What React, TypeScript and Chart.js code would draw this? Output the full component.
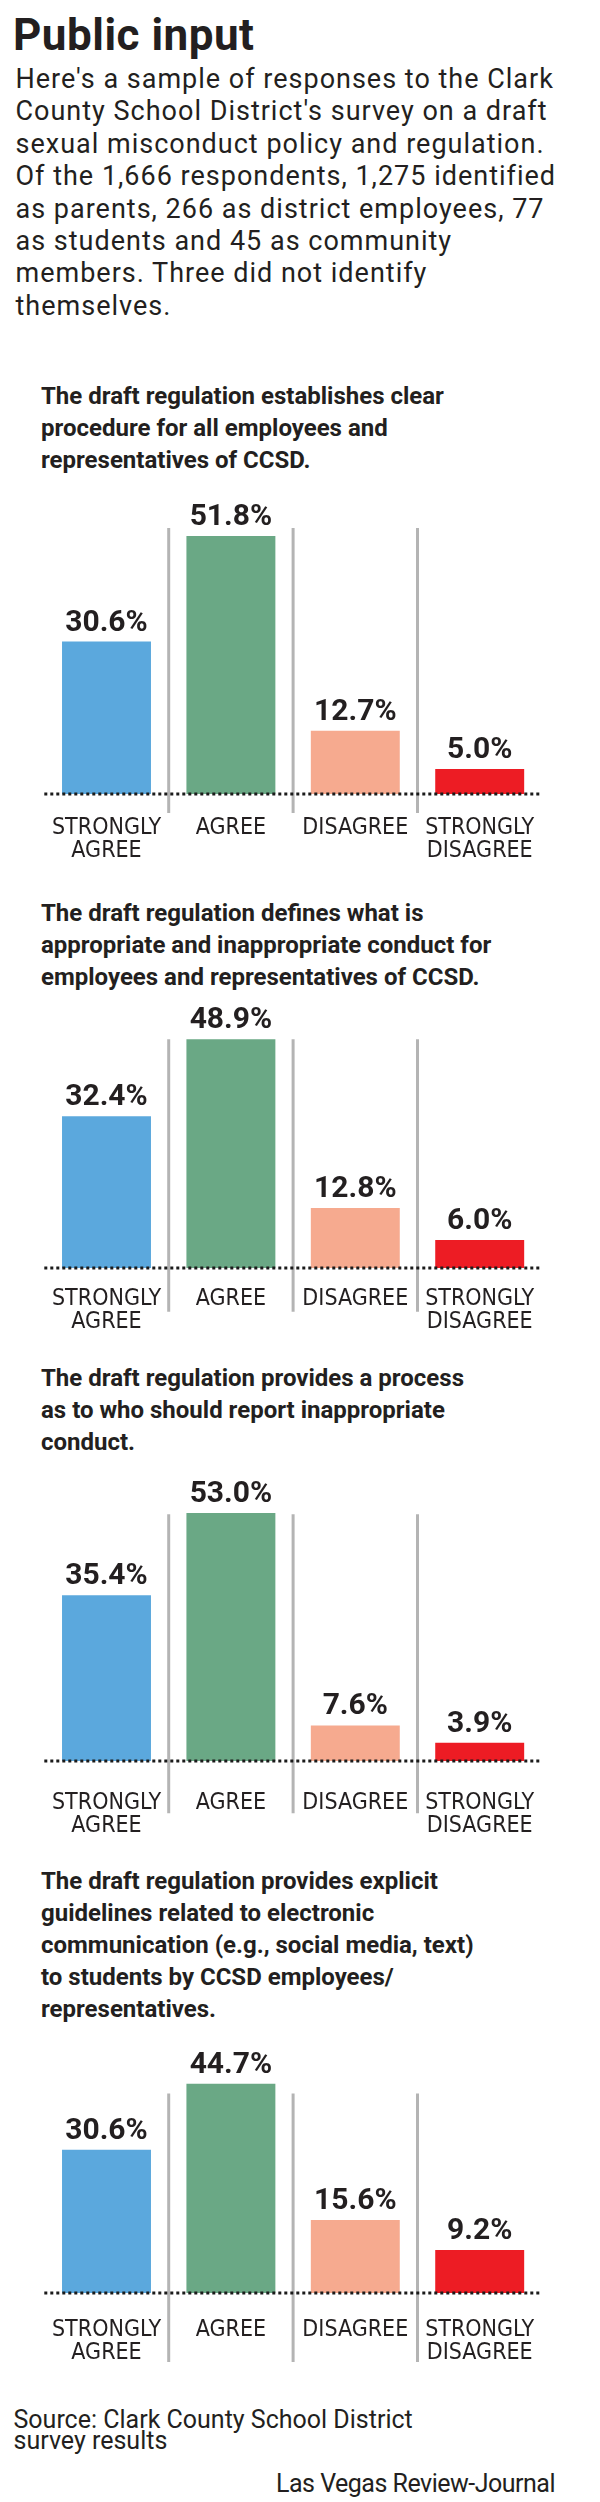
import React, { useEffect, useRef } from "react";
import { Chart, registerables } from "chart.js";

Chart.register(...registerables);

// ---------- DATA ----------
const HEADLINE = "Public input";
const INTRO_LINES = [
  "Here's a sample of responses to the Clark",
  "County School District's survey on a draft",
  "sexual misconduct policy and regulation.",
  "Of the 1,666 respondents, 1,275 identified",
  "as parents, 266 as district employees, 77",
  "as students and 45 as community",
  "members. Three did not identify",
  "themselves.",
];
const CATEGORIES: string[][] = [
  ["STRONGLY", "AGREE"],
  ["AGREE"],
  ["DISAGREE"],
  ["STRONGLY", "DISAGREE"],
];
const Q1_TITLE = [
  "The draft regulation establishes clear",
  "procedure for all employees and",
  "representatives of CCSD.",
];
const Q2_TITLE = [
  "The draft regulation defines what is",
  "appropriate and inappropriate conduct for",
  "employees and representatives of CCSD.",
];
const Q3_TITLE = [
  "The draft regulation provides a process",
  "as to who should report inappropriate",
  "conduct.",
];
const Q4_TITLE = [
  "The draft regulation provides explicit",
  "guidelines related to electronic",
  "communication (e.g., social media, text)",
  "to students by CCSD employees/",
  "representatives.",
];
const Q1_VALUES = [30.6, 51.8, 12.7, 5.0];
const Q2_VALUES = [32.4, 48.9, 12.8, 6.0];
const Q3_VALUES = [35.4, 53.0, 7.6, 3.9];
const Q4_VALUES = [30.6, 44.7, 15.6, 9.2];
const SOURCE_LINES = ["Source: Clark County School District", "survey results"];
const CREDIT = "Las Vegas Review-Journal";

// ---------- STYLE ----------
const BAR_COLORS = ["#5ba8dd", "#6aa885", "#f6aa8f", "#ed1c24"];
const TEXT = "#231f20";
const GRID = "#b4b4b4";
const CONDENSED = "'Liberation Sans Narrow', 'DejaVu Sans Condensed', Roboto, sans-serif";
const AXIS_H = 80;

type PanelLayout = {
  titleTop: number;
  baseline: number;
  pxPerPct: number;
  plotH: number;
  gridAbove: number;
  gridBelow: number;
  labelPad: number;
};

const PANELS: { title: string[]; values: number[]; layout: PanelLayout }[] = [
  { title: Q1_TITLE, values: Q1_VALUES, layout: { titleTop: 380, baseline: 794, pxPerPct: 4.98, plotH: 300, gridAbove: 266, gridBelow: 19, labelPad: 23 } },
  { title: Q2_TITLE, values: Q2_VALUES, layout: { titleTop: 896.5, baseline: 1267.7, pxPerPct: 4.68, plotH: 265, gridAbove: 228.7, gridBelow: 43.8, labelPad: 19.6 } },
  { title: Q3_TITLE, values: Q3_VALUES, layout: { titleTop: 1362, baseline: 1760.7, pxPerPct: 4.68, plotH: 290, gridAbove: 246.7, gridBelow: 52.3, labelPad: 30.6 } },
  { title: Q4_TITLE, values: Q4_VALUES, layout: { titleTop: 1865, baseline: 2292.7, pxPerPct: 4.68, plotH: 252, gridAbove: 199.4, gridBelow: 69, labelPad: 25.9 } },
];

function decorPlugin(values: number[], layout: PanelLayout) {
  return {
    id: "panelDecor",
    beforeDatasetsDraw(chart: any) {
      const { ctx, scales } = chart;
      const x = scales.x;
      const base = scales.y.getPixelForValue(0);
      ctx.save();
      ctx.strokeStyle = GRID;
      ctx.lineWidth = 3;
      for (let i = 0; i < values.length - 1; i++) {
        const gx = (x.getPixelForValue(i) + x.getPixelForValue(i + 1)) / 2;
        ctx.beginPath();
        ctx.moveTo(gx, base - layout.gridAbove);
        ctx.lineTo(gx, base + layout.gridBelow);
        ctx.stroke();
      }
      ctx.restore();
    },
    afterDatasetsDraw(chart: any) {
      const { ctx, chartArea, scales } = chart;
      const base = scales.y.getPixelForValue(0);
      ctx.save();
      ctx.setLineDash([3, 3]);
      ctx.lineWidth = 3;
      ctx.strokeStyle = "#1b1b1b";
      ctx.beginPath();
      ctx.moveTo(chartArea.left, base);
      ctx.lineTo(chartArea.right, base);
      ctx.stroke();
      ctx.setLineDash([]);
      ctx.font = "bold 30px Roboto";
      ctx.textAlign = "center";
      ctx.textBaseline = "alphabetic";
      ctx.fillStyle = TEXT;
      const meta = chart.getDatasetMeta(0);
      meta.data.forEach((bar: any, i: number) => {
        ctx.fillText(`${values[i].toFixed(1)}%`, bar.x, bar.y - 11);
      });
      ctx.restore();
    },
  };
}

function BarPanel({ values, layout }: { values: number[]; layout: PanelLayout }) {
  const ref = useRef<HTMLCanvasElement | null>(null);
  useEffect(() => {
    const canvas = ref.current;
    if (!canvas) return;
    const yMax = layout.plotH / layout.pxPerPct;
    const chart = new Chart(canvas, {
      type: "bar",
      data: {
        labels: CATEGORIES as any,
        datasets: [
          {
            data: values,
            backgroundColor: BAR_COLORS,
            borderWidth: 0,
            barPercentage: 0.715,
            categoryPercentage: 1,
          },
        ],
      },
      options: {
        animation: false,
        responsive: true,
        maintainAspectRatio: false,
        layout: { padding: { left: 44.3, right: 58.1, top: 0, bottom: 0 } },
        plugins: {
          legend: { display: false },
          tooltip: { enabled: false },
          title: { display: false },
        },
        scales: {
          x: {
            grid: { display: false, drawTicks: false },
            border: { display: false },
            ticks: {
              padding: layout.labelPad,
              color: TEXT,
              autoSkip: false,
              maxRotation: 0,
              minRotation: 0,
              font: { family: CONDENSED, size: 23, lineHeight: "22.7px" },
            },
            afterFit: (s: any) => {
              s.height = AXIS_H;
            },
          },
          y: { display: false, min: 0, max: yMax },
        },
      },
      plugins: [decorPlugin(values, layout)],
    });
    return () => chart.destroy();
  }, [values, layout]);
  const h = layout.plotH + AXIS_H;
  return (
    <div style={{ position: "absolute", left: 0, top: layout.baseline - layout.plotH, width: 600, height: h }}>
      <canvas ref={ref} />
    </div>
  );
}

export default function App() {
  const font = "Roboto, 'Liberation Sans', sans-serif";
  return (
    <div
      style={{
        position: "absolute",
        left: 0,
        top: 0,
        width: 600,
        height: 2502,
        background: "#ffffff",
        color: TEXT,
        fontFamily: font,
        overflow: "hidden",
      }}
    >
      <div style={{ position: "absolute", left: 13, top: 13, fontSize: 44, lineHeight: "44px", fontWeight: 700, letterSpacing: "0.5px", whiteSpace: "nowrap" }}>
        {HEADLINE}
      </div>
      <div style={{ position: "absolute", left: 15.5, top: 62.9, fontSize: 27, lineHeight: "32.4px", letterSpacing: "1px", whiteSpace: "nowrap" }}>
        {INTRO_LINES.map((l, i) => (
          <div key={i}>{l}</div>
        ))}
      </div>
      {PANELS.map((p, k) => (
        <React.Fragment key={k}>
          <div style={{ position: "absolute", left: 41, top: p.layout.titleTop, fontSize: 24, lineHeight: "32px", fontWeight: 700, whiteSpace: "nowrap" }}>
            {p.title.map((l, i) => (
              <div key={i}>{l}</div>
            ))}
          </div>
          <BarPanel values={p.values} layout={p.layout} />
        </React.Fragment>
      ))}
      <div style={{ position: "absolute", left: 13.5, top: 2409.2, fontSize: 25, lineHeight: "21px", whiteSpace: "nowrap" }}>
        {SOURCE_LINES.map((l, i) => (
          <div key={i}>{l}</div>
        ))}
      </div>
      <div style={{ position: "absolute", right: 45, top: 2471.1, fontSize: 25, lineHeight: "26px", letterSpacing: "-0.5px", whiteSpace: "nowrap" }}>
        {CREDIT}
      </div>
    </div>
  );
}
